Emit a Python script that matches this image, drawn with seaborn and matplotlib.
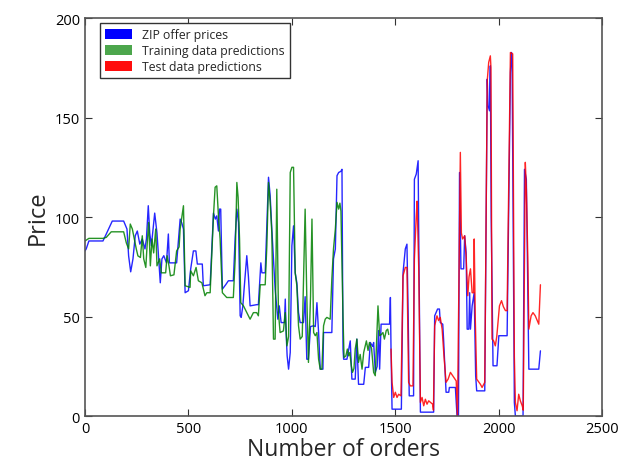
import pandas as pd
import matplotlib
matplotlib.use('Agg')
import matplotlib.pyplot as plt
from matplotlib.patches import Patch
import seaborn as sns

# ZIP offer prices (order index, price)
zip_x = [0, 6, 19, 87, 103, 132, 187, 203, 211, 221, 232, 243, 253, 265, 277, 290, 297, 306, 313, 321,
         337, 348, 353, 364, 372, 381, 394, 403, 408, 443, 460, 468, 476, 484, 500, 511, 524, 536, 543, 567,
         572, 605, 621, 630, 637, 645, 650, 656, 664, 680, 693, 717, 726, 734, 742, 750, 755, 763, 769, 782,
         790, 798, 830, 838, 847, 850, 855, 871, 887, 895, 903, 919, 932, 939, 948, 964, 968, 972, 977, 984,
         992, 1000, 1008, 1016, 1024, 1032, 1040, 1056, 1064, 1072, 1080, 1090, 1105, 1113, 1121, 1129, 1137,
         1150, 1153, 1193, 1201, 1210, 1218, 1226, 1237, 1242, 1247, 1250, 1266, 1282, 1290, 1306, 1314, 1322,
         1347, 1355, 1371, 1379, 1390, 1395, 1403, 1412, 1419, 1424, 1431, 1472, 1476, 1479, 1484, 1529, 1537,
         1548, 1556, 1562, 1567, 1588, 1592, 1601, 1610, 1613, 1621, 1685, 1690, 1704, 1713, 1717, 1729, 1733,
         1745, 1758, 1761, 1790, 1798, 1805, 1810, 1814, 1817, 1830, 1835, 1842, 1847, 1855, 1859, 1863, 1871,
         1881, 1888, 1893, 1932, 1944, 1948, 1955, 1959, 1963, 1972, 1991, 2000, 2040, 2056, 2061, 2064, 2075,
         2080, 2117, 2124, 2133, 2145, 2193, 2201]
zip_y = [83, 84, 88, 88, 91.5, 98, 98, 94, 80.5, 72.5, 79, 90.6, 93, 86.4, 89, 84, 89, 105.7, 92, 85.6,
         102, 92, 84, 67, 79, 80.6, 77, 91.5, 77, 77, 99, 97, 94, 62, 63, 74, 83, 83, 76.4, 76.4,
         65.5, 66, 102, 99, 100.6, 93, 104, 104, 63.8, 66, 68, 68, 90, 104, 97.3, 50.4, 49.6, 55.4, 63.8, 80.6,
         70, 55.4, 56, 56, 72, 77, 72, 72, 120, 110.7, 94, 63.8, 48.7, 55.4, 47, 47, 58.8, 42, 30.3, 23.6,
         32, 85.6, 95.6, 72, 67, 52, 47, 47, 60, 28.6, 28.6, 45, 45.4, 45, 57, 42, 23.6,
         23.6, 42, 42, 79, 84, 120.8, 122.4, 123, 124, 33.7, 28.6, 28.6, 37.8, 18.6, 18.6, 38.7, 16,
         16, 24.5, 24.5, 37, 35, 37, 22, 25, 43, 23.6, 46.2, 46.2, 59.6, 33.7, 3.5, 3.5, 72,
         84, 86.4, 50, 10.2, 10.2, 119, 121.6, 128.3, 90, 2, 2, 50.4, 53.8, 53.8, 47, 46.2, 38.7,
         12, 12, 14.4, 14.4, 0, 0, 122.4, 95.6, 74, 74, 90.6, 82, 43.7, 43.7, 62, 43.7, 55.4,
         62, 20.3, 12.7, 12.7, 169.3, 156, 153.4, 176, 100, 25.3, 25.3, 40.4, 40.4, 172.7, 182.7, 179, 6.9,
         0, 0, 124, 119, 23.6, 23.6, 32.8]

# Training data predictions
train_x = [0, 19, 87, 103, 127, 187, 200, 211, 219, 229, 248, 256, 268, 277, 284, 294, 301, 308, 316, 324,
           332, 342, 348, 361, 369, 390, 397, 406, 413, 430, 443, 455, 460, 476, 484, 508, 511, 524, 537, 548,
           565, 580, 589, 605, 621, 629, 637, 645, 653, 664, 685, 717, 726, 734, 740, 747, 753, 766, 790, 798,
           814, 830, 838, 847, 871, 879, 887, 895, 903, 911, 919, 927, 935, 943, 959, 968, 976, 984, 992, 1000,
           1008, 1016, 1024, 1032, 1040, 1050, 1064, 1072, 1080, 1090, 1097, 1105, 1113, 1121, 1129, 1137, 1145,
           1153, 1161, 1169, 1185, 1193, 1201, 1210, 1218, 1226, 1232, 1237, 1247, 1252, 1261, 1268, 1274, 1280,
           1287, 1293, 1300, 1306, 1314, 1322, 1330, 1339, 1347, 1360, 1368, 1375, 1385, 1395, 1403, 1416, 1424,
           1432, 1440, 1447, 1456, 1463, 1468]
train_y = [88, 89.3, 89.3, 89.8, 92.6, 92.6, 87, 84, 96.5, 94, 84, 80.5, 79.7, 90.6, 79, 74.7, 87, 97.3, 75.5, 89,
           82, 94, 75.5, 79, 72, 72, 80.6, 75.5, 70.5, 71, 83, 85, 94, 105.7, 65.5, 64.7, 73, 70.5, 74.7, 68,
           67, 60.5, 62, 62, 100.6, 115, 115.7, 100.6, 89, 62, 59.6, 59.6, 79, 117.4, 110, 89, 57, 55.4, 50.4, 48.7,
           52, 52, 50.4, 66, 66, 85.6, 117.4, 107.4, 92, 38.7, 38.7, 114, 52, 42, 42.8, 52, 35.3, 40, 122.4, 125,
           125, 72, 65.5, 45.4, 38.7, 40, 104, 60, 27, 60, 99, 42, 40.4, 42, 28.6, 23.6, 23.6,
           45.4, 48.7, 49.6, 48.7, 68.8, 84, 94, 107.4, 104, 107, 103, 50, 29.5, 30.3, 33.7, 30.3, 32,
           25.3, 22, 24, 33.7, 38.7, 27, 31, 23.6, 32, 37.8, 33, 37, 34, 22, 20.3, 55.4, 40.4,
           41, 42, 38.7, 43, 43.7, 41]

# Test data predictions
test_x = [1479, 1484, 1492, 1500, 1508, 1516, 1527, 1537, 1548, 1556, 1564, 1572, 1585, 1592, 1601, 1605, 1613,
          1621, 1629, 1637, 1645, 1653, 1661, 1680, 1684, 1690, 1701, 1709, 1717, 1726, 1735, 1745, 1755, 1766,
          1777, 1794, 1800, 1814, 1819, 1825, 1835, 1842, 1850, 1856, 1863, 1871, 1878, 1881, 1886, 1893, 1911,
          1919, 1932, 1944, 1951, 1959, 1962, 1967, 1975, 1983, 1990, 2003, 2013, 2022, 2032, 2040, 2056, 2067,
          2075, 2080, 2088, 2096, 2104, 2113, 2118, 2128, 2133, 2140, 2145, 2156, 2165, 2176, 2193, 2201]
test_y = [33.7, 17, 9.4, 12, 9.4, 11, 10.2, 70.5, 74.7, 74.7, 17, 15.2, 15.2, 79, 100.6, 108, 74,
          6.9, 9.4, 5.2, 8.5, 6, 7.7, 6, 3, 45.4, 50.4, 48, 49.6, 43.7, 30, 17, 18.6, 22,
          20.3, 17.7, 0, 132.5, 92, 89, 90.6, 80, 60.5, 70, 74, 62, 62, 89, 50, 18.6, 16,
          14.4, 17, 168.5, 177.7, 181, 175, 38.7, 37.8, 35.3, 40, 55.4, 58, 55, 53, 53, 182.7, 182,
          30, 6.9, 2.7, 11, 7.7, 5.2, 3, 127.5, 114, 80, 43.7, 50.4, 52, 50.4, 46.2, 66]

labels = ['ZIP offer prices', 'Training data predictions', 'Test data predictions']
colors = ['#0000ff', '#008000', '#ff0000']

sns.set_style('ticks', {'xtick.direction': 'in', 'ytick.direction': 'in'})
plt.rcParams['font.family'] = ['Open Sans', 'DejaVu Sans']

fig = plt.figure(figsize=(6.34, 4.64), dpi=100)
ax = fig.add_axes([0.134, 0.101, 0.816, 0.858])

series = [(zip_x, zip_y), (train_x, train_y), (test_x, test_y)]
for (xs, ys), lab, col in zip(series, labels, colors):
    df = pd.DataFrame({'orders': xs, 'price': ys})
    sns.lineplot(data=df, x='orders', y='price', ax=ax, color=col, lw=1.0,
                 estimator=None, sort=False, alpha=0.85)

ax.set_xlim(0, 2500)
ax.set_ylim(0, 200)
ax.set_xticks(range(0, 2501, 500))
ax.set_yticks(range(0, 201, 50))
ax.tick_params(top=True, right=True, length=5, width=0.8, labelsize=10.5, colors='#333333',
               labelcolor='black')
for s in ax.spines.values():
    s.set_color('#555555')
    s.set_linewidth(1.2)

ax.set_xlabel('Number of orders', fontsize=16.5, labelpad=1)
ax.set_ylabel('Price', fontsize=17)

handles = [Patch(facecolor=c, edgecolor='none', alpha=a) for c, a in zip(colors, [1.0, 0.7, 0.95])]
ax.legend(handles, labels, loc='upper left', bbox_to_anchor=(0.03, 0.987), borderaxespad=0,
          fontsize=8.8, frameon=True, fancybox=False, edgecolor='#333333', framealpha=1,
          labelspacing=0.25, handlelength=2.2, handleheight=0.9, borderpad=0.4)

fig.savefig('out.png', dpi=100)
